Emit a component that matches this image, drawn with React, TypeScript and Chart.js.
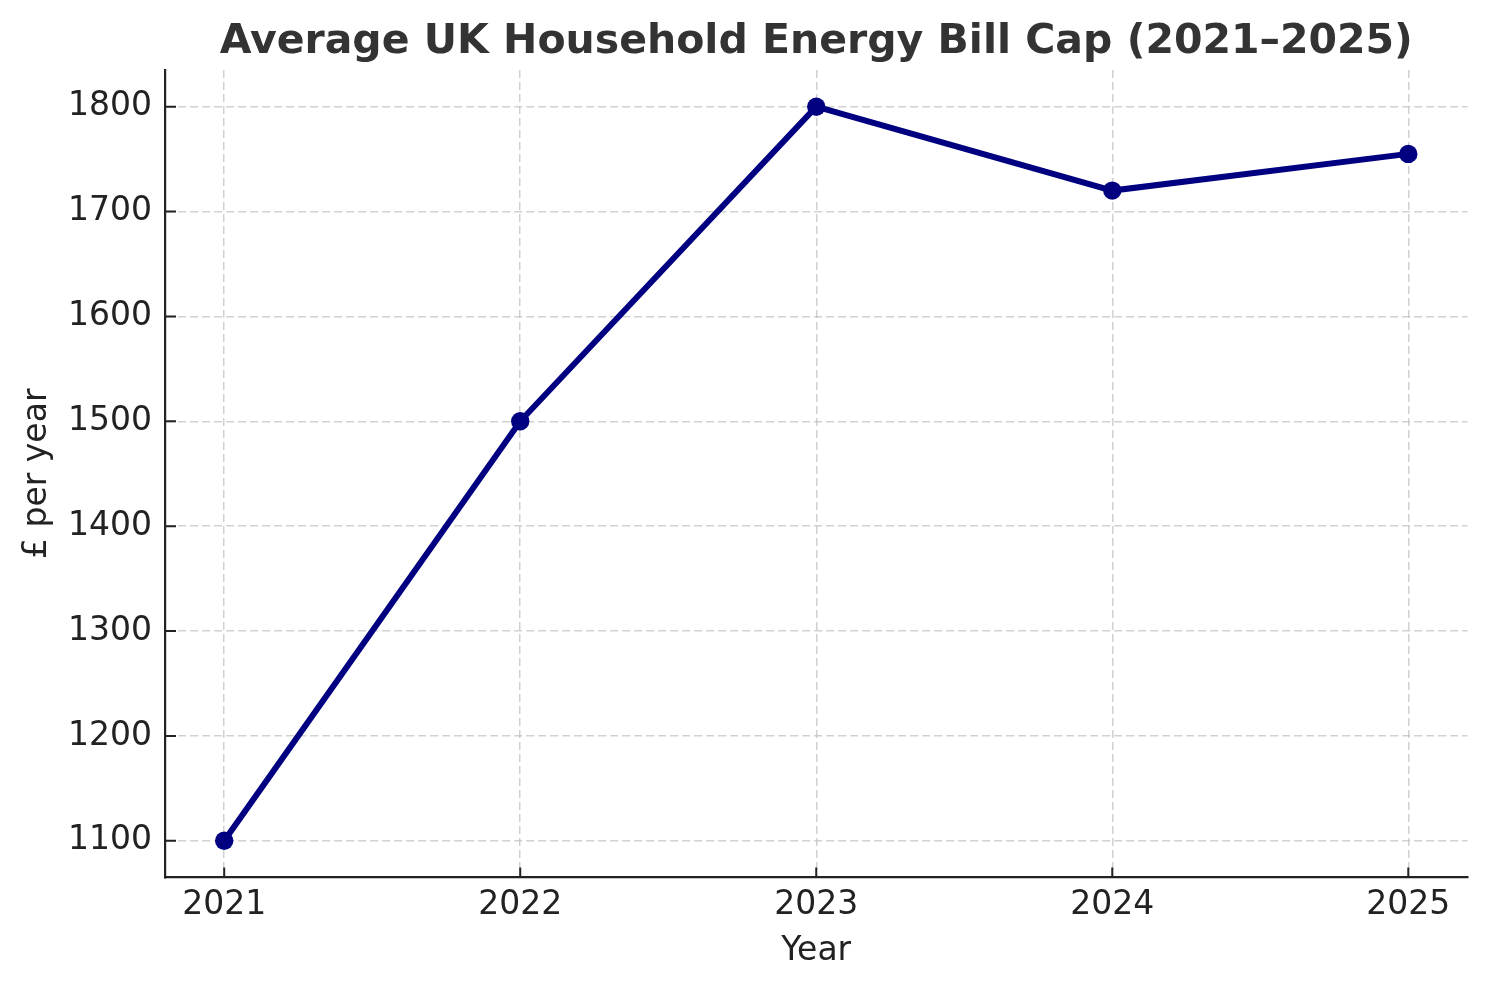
import React, { useEffect, useRef } from "react";
import { Chart, registerables } from "chart.js";

Chart.register(...registerables);

const years = [2021, 2022, 2023, 2024, 2025];
const capValues = [1100, 1500, 1800, 1720, 1755];
const yTickValues = [1100, 1200, 1300, 1400, 1500, 1600, 1700, 1800];
const titleText = "Average UK Household Energy Bill Cap (2021–2025)";
const xTitle = "Year";
const yTitle = "£ per year";

const FONT = "'DejaVu Sans', sans-serif";
const INK = "#222222";

const inwardTicks = {
  id: "inwardTicks",
  afterDraw(chart: any) {
    const { ctx, chartArea } = chart;
    const xs = chart.scales.x;
    const ys = chart.scales.y;
    ctx.save();
    ctx.strokeStyle = INK;
    ctx.lineWidth = 2;
    ctx.beginPath();
    xs.ticks.forEach((t: any) => {
      const px = xs.getPixelForValue(t.value);
      ctx.moveTo(px, chartArea.bottom);
      ctx.lineTo(px, chartArea.bottom - 10);
    });
    ys.ticks.forEach((t: any) => {
      const py = ys.getPixelForValue(t.value);
      ctx.moveTo(chartArea.left, py);
      ctx.lineTo(chartArea.left + 11, py);
    });
    ctx.stroke();
    ctx.restore();
  },
};

const plotTitle = {
  id: "plotTitle",
  afterDraw(chart: any) {
    const { ctx, chartArea } = chart;
    ctx.save();
    ctx.fillStyle = "#333333";
    ctx.font = `bold 41px ${FONT}`;
    ctx.textAlign = "center";
    ctx.textBaseline = "alphabetic";
    ctx.fillText(titleText, (chartArea.left + chartArea.right) / 2, 53);
    ctx.restore();
  },
};

export default function App() {
  const ref = useRef<HTMLCanvasElement | null>(null);

  useEffect(() => {
    if (!ref.current) return;
    const chart = new Chart(ref.current, {
      type: "line",
      data: {
        datasets: [
          {
            data: years.map((x, i) => ({ x, y: capValues[i] })),
            borderColor: "#000080",
            backgroundColor: "#000080",
            borderWidth: 6,
            pointRadius: 9.2,
            pointBorderWidth: 0,
            pointBackgroundColor: "#000080",
            tension: 0,
            fill: false,
          },
        ],
      },
      options: {
        animation: false,
        responsive: true,
        maintainAspectRatio: false,
        layout: { padding: { left: 0, right: 20.5, top: 70, bottom: 0 } },
        plugins: {
          legend: { display: false },
          tooltip: { enabled: false },
          title: { display: false },
        },
        scales: {
          x: {
            type: "linear",
            min: 2020.8,
            max: 2025.2,
            afterBuildTicks: (s: any) => {
              s.ticks = years.map((v) => ({ value: v }));
            },
            afterFit: (s: any) => {
              s.height = 110.5;
            },
            grid: {
              display: true,
              drawTicks: false,
              color: "rgba(190,190,190,0.7)",
              lineWidth: 1.5,
            },
            border: { display: true, color: INK, width: 2.2, dash: [8, 4] },
            ticks: {
              color: INK,
              font: { family: FONT, size: 33 },
              padding: 8,
              maxRotation: 0,
              callback: (v: any) => String(v),
            },
            title: {
              display: true,
              text: xTitle,
              color: INK,
              font: { family: FONT, size: 33, lineHeight: 1.2 },
              padding: { top: 0, bottom: 17 },
            },
          },
          y: {
            type: "linear",
            min: 1065,
            max: 1835,
            afterBuildTicks: (s: any) => {
              s.ticks = yTickValues.map((v) => ({ value: v }));
            },
            afterFit: (s: any) => {
              s.width = 165;
            },
            grid: {
              display: true,
              drawTicks: false,
              color: "rgba(190,190,190,0.7)",
              lineWidth: 1.5,
            },
            border: { display: true, color: INK, width: 2.2, dash: [8, 4] },
            ticks: {
              color: INK,
              font: { family: FONT, size: 33 },
              padding: 13,
              callback: (v: any) => String(v),
            },
            title: {
              display: true,
              text: yTitle,
              color: INK,
              font: { family: FONT, size: 33, lineHeight: 1.2 },
              padding: { top: 18, bottom: 0 },
            },
          },
        },
      },
      plugins: [inwardTicks, plotTitle],
    });
    return () => chart.destroy();
  }, []);

  return (
    <div
      style={{
        position: "fixed",
        left: 0,
        top: 0,
        width: 1488,
        height: 988,
        background: "#ffffff",
      }}
    >
      <canvas ref={ref} />
    </div>
  );
}
